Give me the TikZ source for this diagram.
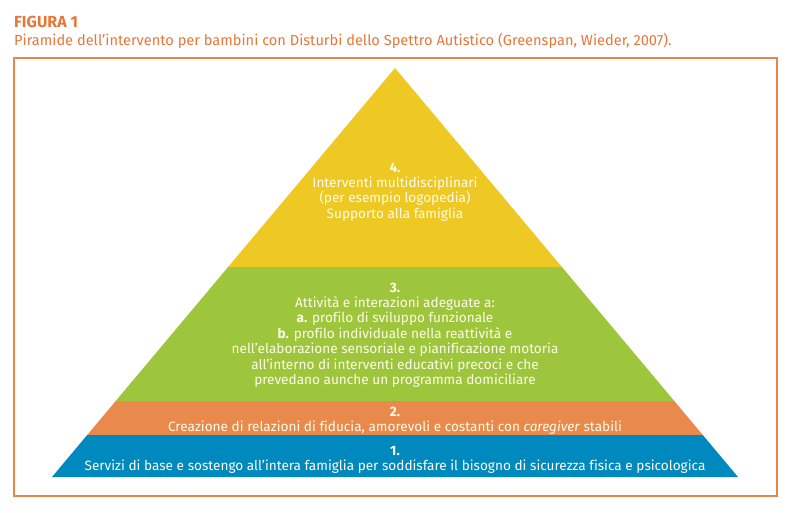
\documentclass[tikz,border=0pt]{standalone}
\usepackage{fontspec}
\setmainfont[Ligatures=CommonOff]{Fira Sans}
\definecolor{ttl}{HTML}{E8763A}
\definecolor{frm}{HTML}{E9844A}
\definecolor{lyel}{HTML}{EEC923}
\definecolor{lgrn}{HTML}{9DC63C}
\definecolor{lorg}{HTML}{E98A4C}
\definecolor{lblu}{HTML}{0089BF}
\definecolor{txt}{HTML}{FFFBEA}
\begin{document}
\begin{tikzpicture}[x=1pt,y=-1pt,
  ltxt/.style={text=txt,align=center,font=\fontsize{13.6}{15.4}\selectfont,inner sep=0pt},
  ttxt/.style={text=ttl,anchor=west,inner sep=0pt}]
\useasboundingbox (0,0) rectangle (800,512);
% frame
\draw[frm,line width=1.2pt] (14,58) rectangle (777,496);
% layers
\fill[lyel] (395,68) -- (228.1,267) -- (561.9,267) -- cycle;
\fill[lgrn] (228.1,267) -- (115.7,401) -- (674.3,401) -- (561.9,267) -- cycle;
\fill[lorg] (115.7,401) -- (87.2,435) -- (702.8,435) -- (674.3,401) -- cycle;
\fill[lblu] (87.2,435) -- (52,477) -- (738,477) -- (702.8,435) -- cycle;
% titles
\node[ttxt,font=\fontsize{16}{16}\selectfont\bfseries] (fig) at (14,22) {FIGURA 1};
\node[ttxt,font=\fontsize{14.6}{16}\selectfont] (sub) at (14,41) {Piramide dell’intervento per bambini con Disturbi dello Spettro Autistico (Greenspan, Wieder, 2007).};
% layer texts
\node[ltxt] (t4) at (395,192) {\textbf{4.}\\Interventi multidisciplinari\\(per esempio logopedia)\\Supporto alla famiglia};
\node[ltxt] (t3) at (395,335) {\textbf{3.}\\Attività e interazioni adeguate a:\\\textbf{a.} profilo di sviluppo funzionale\\\textbf{b.} profilo individuale nella reattività e\\nell’elaborazione sensoriale e pianificazione motoria\\all’interno di interventi educativi precoci e che\\prevedano aunche un programma domiciliare};
\node[ltxt] (t2) at (395,421) {\textbf{2.}\\Creazione di relazioni di fiducia, amorevoli e costanti con \textit{caregiver} stabili};
\node[ltxt] (t1) at (395,460) {\textbf{1.}\\Servizi di base e sostengo all’intera famiglia per soddisfare il bisogno di sicurezza fisica e psicologica};
\end{tikzpicture}
\end{document}
